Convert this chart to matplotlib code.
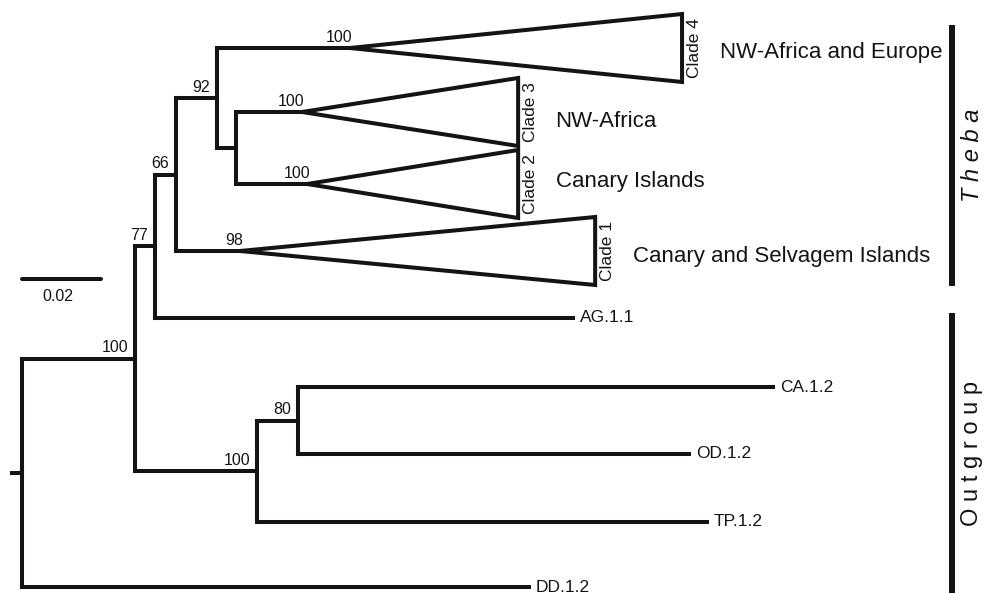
import matplotlib
matplotlib.use("Agg")
import matplotlib.pyplot as plt
from matplotlib.patches import Polygon

plt.rcParams['font.family'] = ['Liberation Sans', 'DejaVu Sans']

# tree: node, parent, distance from root, bootstrap support
node_names = ["root", "A", "B", "C", "D", "E", "F", "G",
              "Clade 4", "Clade 3", "Clade 2", "Clade 1",
              "AG.1.1", "CA.1.2", "OD.1.2", "TP.1.2", "DD.1.2"]
parents = [None, "root", "A", "B", "C", "D", "A", "F",
           "D", "E", "E", "C",
           "B", "G", "G", "F", "root"]
depths = [0.0, 0.0286, 0.0337, 0.0390, 0.0494, 0.0542, 0.0595, 0.0699,
          0.0830, 0.0709, 0.0722, 0.0552,
          0.1395, 0.1901, 0.1689, 0.1734, 0.1284]
supports = [None, 100, 77, 66, 92, None, 100, 80,
            100, 100, 100, 98,
            None, None, None, None, None]

# leaf order (row positions top to bottom)
leaf_names = ["Clade 4", "Clade 3", "Clade 2", "Clade 1",
              "AG.1.1", "CA.1.2", "OD.1.2", "TP.1.2", "DD.1.2"]
leaf_rows = [48, 112, 184, 251, 318, 387, 454, 522, 587]

# collapsed clades
clade_names = ["Clade 4", "Clade 3", "Clade 2", "Clade 1"]
clade_tip_depth = [0.1671, 0.1256, 0.1256, 0.1451]
clade_regions = ["NW-Africa and Europe", "NW-Africa", "Canary Islands",
                 "Canary and Selvagem Islands"]

groups = ["Theba", "Outgroup"]
group_spans = [(25, 286), (313, 593)]

scale_len = 0.02

PX = 1 / 3950.0           # tree units per pixel
LW = 2.9
INK = "#141414"

fig = plt.figure(figsize=(9.95, 5.94), dpi=100)
ax = fig.add_axes([0, 0, 1, 1])
ax.set_xlim(-22 * PX, 973 * PX)
ax.set_ylim(594, 0)
ax.axis("off")

depth = dict(zip(node_names, depths))
parent = dict(zip(node_names, parents))
support = dict(zip(node_names, supports))
children = {n: [c for c in node_names if parent[c] == n] for n in node_names}

row = dict(zip(leaf_names, leaf_rows))
def get_row(n):
    if n not in row:
        ys = [get_row(c) for c in children[n]]
        row[n] = (min(ys) + max(ys)) / 2
    return row[n]
get_row("root")

line_kw = dict(color=INK, lw=LW, solid_capstyle="projecting")

# branches
for n in node_names:
    kids = children[n]
    if kids:
        ys = [row[c] for c in kids]
        ax.plot([depth[n], depth[n]], [min(ys), max(ys)], **line_kw)
        for c in kids:
            ax.plot([depth[n], depth[c]], [row[c], row[c]], **line_kw)

# root stub
ax.plot([-10 * PX, 0], [row["root"], row["root"]], **line_kw)

# collapsed clade triangles
region_nudge = [10, 15, 3, 11]   # baseline below clade row, px
for name, tip, region, dy in zip(clade_names, clade_tip_depth, clade_regions, region_nudge):
    y = row[name]
    tri = Polygon([(depth[name], y), (tip, y - 34), (tip, y + 34)], closed=True,
                  facecolor="white", edgecolor=INK, lw=LW, joinstyle="miter", zorder=3)
    ax.add_patch(tri)
    ax.annotate(name, (tip, y), xytext=(9, 0), textcoords="offset points",
                rotation=90, ha="center", va="center", fontsize=12.5, color=INK)
    ax.annotate(region, (tip, y + dy), xytext=(27, 0), textcoords="offset points",
                ha="left", va="baseline", fontsize=16, color=INK)

# tip labels
for name in leaf_names:
    if name in clade_names:
        continue
    ax.annotate(name, (depth[name], row[name]), xytext=(5, 0), textcoords="offset points",
                ha="left", va="center", fontsize=12.5, color=INK)

# bootstrap supports
for n in node_names:
    s = support[n]
    if s is None:
        continue
    dx = 2 if n in clade_names else -5
    ax.annotate(str(s), (depth[n], row[n]), xytext=(dx, 4.5), textcoords="offset points",
                ha="right", va="baseline", fontsize=11.5, color=INK)

# scale bar
ax.plot([0, scale_len], [279, 279], color=INK, lw=LW, solid_capstyle="round")
ax.annotate(f"{scale_len:g}", (scale_len / 2 - 4 * PX, 279), xytext=(0, -7),
            textcoords="offset points", ha="center", va="top", fontsize=11.5, color=INK)

# group bars
bar_x = 930 * PX
for g, (y0, y1) in zip(groups, group_spans):
    ax.plot([bar_x, bar_x], [y0, y1], color=INK, lw=4.3, solid_capstyle="butt")
    ax.annotate(" ".join(g), (bar_x, (y0 + y1) / 2), xytext=(14.5, 0),
                textcoords="offset points", rotation=90, ha="center", va="center",
                fontsize=17, color=INK, style="italic" if g == "Theba" else "normal")

fig.savefig("out.png", dpi=100)
